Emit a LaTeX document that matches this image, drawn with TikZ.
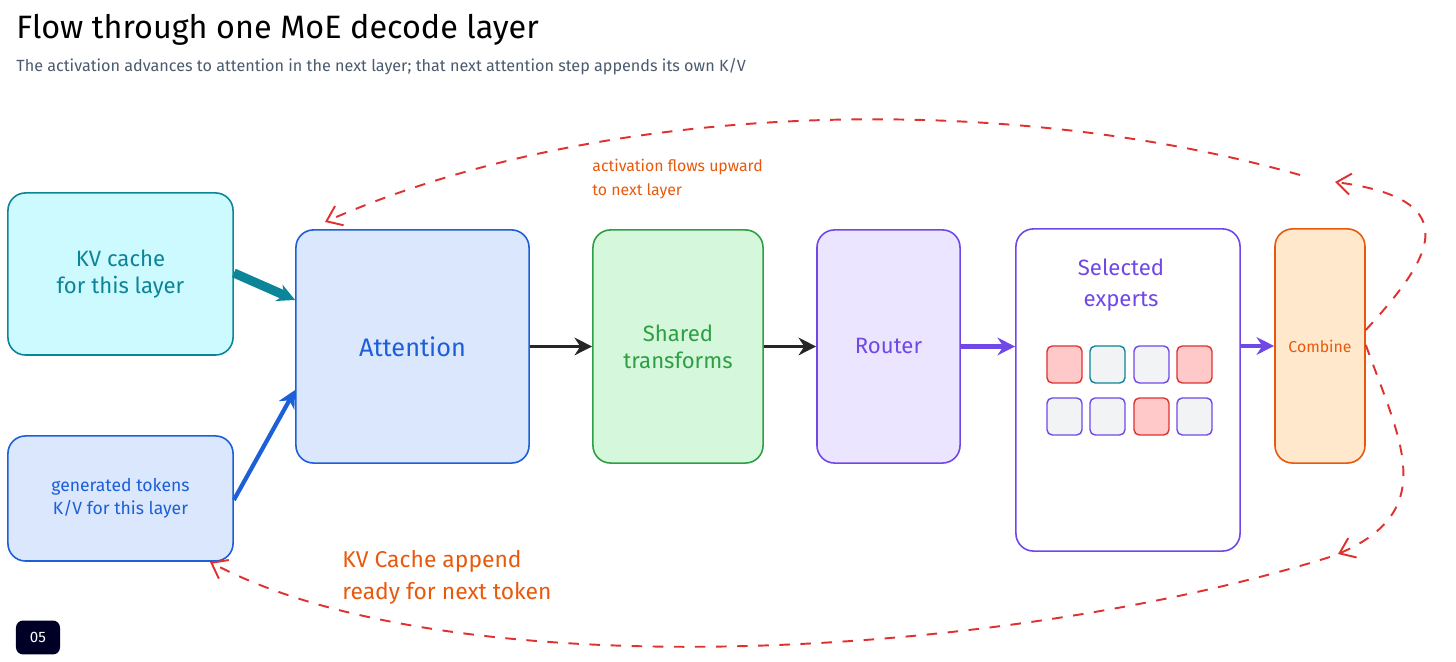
\documentclass[tikz,border=0pt]{standalone}
\usepackage{fontspec}
\setmainfont{Fira Sans}
\usetikzlibrary{arrows.meta}
\definecolor{kvfill}{HTML}{CCFAFE}
\definecolor{kvline}{HTML}{0C8599}
\definecolor{bluefill}{HTML}{DBE7FD}
\definecolor{blueline}{HTML}{1C5FD8}
\definecolor{greenfill}{HTML}{D5F8DC}
\definecolor{greenline}{HTML}{2F9E44}
\definecolor{violetfill}{HTML}{ECE5FF}
\definecolor{violetline}{HTML}{7048E8}
\definecolor{orangefill}{HTML}{FFE8CC}
\definecolor{orangeline}{HTML}{E8590C}
\definecolor{redfill}{HTML}{FFC9C9}
\definecolor{redline}{HTML}{E03131}
\definecolor{greyfill}{HTML}{F1F3F5}
\definecolor{subgrey}{HTML}{4A5A6E}
\tikzset{
  box/.style={draw, rounded corners=5pt, line width=0.45pt, align=center, font=\fontsize{6.3}{7.6}\selectfont},
  chip/.style={draw, rounded corners=1.5pt, line width=0.4pt, minimum width=0.35cm, minimum height=0.37cm},
  flow/.style={-{Stealth[length=5pt,width=5pt]}, line width=0.9pt},
  back/.style={dashed, redline, line width=0.55pt, -{Straight Barb[length=4pt,width=6pt]}}
}
\begin{document}
\begin{tikzpicture}[x=0.01cm,y=-0.01cm]
  \useasboundingbox (0,0) rectangle (1456,662);
  % titel en ondertitel
  \node[anchor=west, font=\fontsize{9.2}{10}\selectfont] (title) at (4,30) {Flow through one MoE decode layer};
  \node[anchor=west, text=subgrey, font=\fontsize{4.6}{5.4}\selectfont] (subtitle) at (4,67)
    {The activation advances to attention in the next layer; that next attention step appends its own K/V};
  % blokken
  \node[box, fill=kvfill, draw=kvline, text=kvline, minimum width=2.25cm, minimum height=1.62cm] (kv) at (120.5,274) {KV cache\\for this layer};
  \node[box, fill=bluefill, draw=blueline, text=blueline, minimum width=2.25cm, minimum height=1.25cm, font=\fontsize{5}{6.4}\selectfont] (gen) at (120.5,498.5) {generated tokens\\K/V for this layer};
  \node[box, fill=bluefill, draw=blueline, text=blueline, minimum width=2.33cm, minimum height=2.33cm, font=\fontsize{7.2}{8.6}\selectfont] (attn) at (412.5,346.5) {Attention};
  \node[box, fill=greenfill, draw=greenline, text=greenline, minimum width=1.70cm, minimum height=2.33cm] (shared) at (678,346.5) {Shared\\transforms};
  \node[box, fill=violetfill, draw=violetline, text=violetline, minimum width=1.43cm, minimum height=2.33cm] (router) at (888.5,346.5) {Router};
  \node[box, fill=white, draw=violetline, minimum width=2.24cm, minimum height=3.22cm] (experts) at (1128,390) {};
  \node[text=violetline, align=center, font=\fontsize{6.3}{8.6}\selectfont] (explabel) at (1121,285) {Selected\\experts};
  \node[box, fill=orangefill, draw=orangeline, text=orangeline, minimum width=0.90cm, minimum height=2.34cm, font=\fontsize{4.5}{5.4}\selectfont] (combine) at (1320,346) {Combine};
  % experts
  \node[chip, fill=redfill, draw=redline] (e1) at (1064.5,364.5) {};
  \node[chip, fill=greyfill, draw=kvline] (e2) at (1107.5,364.5) {};
  \node[chip, fill=greyfill, draw=violetline] (e3) at (1151.5,364.5) {};
  \node[chip, fill=redfill, draw=redline] (e4) at (1194.5,364.5) {};
  \node[chip, fill=greyfill, draw=violetline] (e5) at (1064.5,416.5) {};
  \node[chip, fill=greyfill, draw=violetline] (e6) at (1107.5,416.5) {};
  \node[chip, fill=redfill, draw=redline] (e7) at (1151.5,416.5) {};
  \node[chip, fill=greyfill, draw=violetline] (e8) at (1194.5,416.5) {};
  % pijlen
  \draw[flow, kvline, line width=2.6pt] (kv.east |- 0,273) -- (attn.west |- 0,300);
  \draw[flow, blueline, line width=1.2pt] (gen.east |- 0,500) -- (attn.west |- 0,390);
  \draw[flow, black!85] (attn.east) -- (shared.west);
  \draw[flow, black!85] (shared.east) -- (router.west);
  \draw[flow, violetline, line width=1.3pt] (router.east) -- (experts.west |- router.east);
  \draw[flow, violetline, line width=1.3pt] (experts.east |- combine.west) -- (combine.west);
  % terugkoppeling
  \coordinate (up) at (1335,182);
  \coordinate (down) at (1338,554);
  \coordinate (attntop) at (325,222);
  \coordinate (gentail) at (210,562);
  \draw[back] (combine.east |- 0,330) .. controls (1430,260) and (1470,200) .. (up);
  \draw[back] (1300,175) .. controls (1000,90) and (600,100) .. (attntop);
  \draw[back] (combine.east |- 0,345) .. controls (1400,440) and (1440,510) .. (down);
  \draw[back] (1330,557) .. controls (1000,660) and (450,690) .. (gentail);
  % labels
  \node[anchor=north west, text=orangeline, align=left, font=\fontsize{4.5}{6.8}\selectfont] (uplabel) at (580,147) {activation flows upward\\to next layer};
  \node[anchor=north west, text=orangeline, align=left, font=\fontsize{6.5}{9}\selectfont] (applabel) at (330,538) {KV Cache append\\ready for next token};
  \node[fill=black!85!blue, rounded corners=2pt, text=white, minimum width=0.44cm, minimum height=0.31cm, font=\fontsize{4.3}{5}\selectfont] (page) at (38,637.5) {05};
\end{tikzpicture}
\end{document}
